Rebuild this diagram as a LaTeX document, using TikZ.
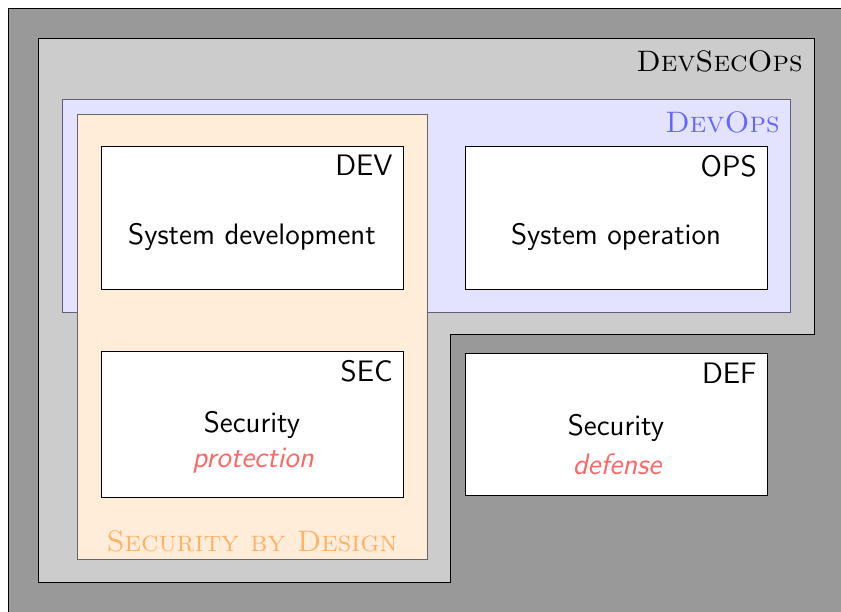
\documentclass[tikz,border=0pt]{standalone}
\definecolor{dopsline}{RGB}{95,95,125}
\tikzset{
  base/.style={font=\fontsize{14.8}{18}\selectfont},
  whitebox/.style={draw=black, fill=white, line width=0.5pt},
  tag/.style={font=\fontsize{14.8}{18}\selectfont\sffamily, anchor=north east, inner sep=0pt},
  body/.style={font=\fontsize{14.8}{18}\selectfont\sffamily, align=center, inner sep=0pt},
  emph/.style={font=\fontsize{14.8}{18}\selectfont\sffamily\itshape, inner sep=0pt, text=red!60},
  region/.style={base, inner sep=0pt},
}
\begin{document}
\begin{tikzpicture}[x=0.5pt,y=-0.5pt]
\useasboundingbox (0,0) rectangle (841,611);
\clip (0,0) rectangle (841,611);
% outer gray
\draw[fill=black!40, line width=0.5pt] (8,8) rectangle (900,700);
% DevSecOps L-shape
\draw[fill=black!20, line width=0.5pt] (38,38) -- (814,38) -- (814,334) -- (450,334) -- (450,582) -- (38,582) -- cycle;
\node[region, anchor=east] (dso) at (803,61) {\textsc{DevSecOps}};
% DevOps
\draw[fill=blue!11, draw=dopsline, line width=0.5pt] (62,99) rectangle (790,312);
\node[region, anchor=east, text=blue!60] (dops) at (780,122) {\textsc{DevOps}};
% Security by Design
\draw[fill=orange!15, draw=black!60, line width=0.5pt] (77,114) rectangle (427,559);
\node[region, text=orange!60] (sbd) at (252,541) {\textsc{Security by Design}};
% DEV
\draw[whitebox] (101,146) rectangle (403,289);
\node[tag] (devl) at (393,155) {DEV};
\node[body] (devt) at (252,237) {System development};
% OPS
\draw[whitebox] (465,146) rectangle (767,289);
\node[tag] (opsl) at (757,155) {OPS};
\node[body] (opst) at (616,237) {System operation};
% SEC
\draw[whitebox] (101,351) rectangle (403,497);
\node[tag] (secl) at (393,360) {SEC};
\node[body] (sect) at (252,425) {Security};
\node[emph] (sece) at (253,461) {protection};
% DEF
\draw[whitebox] (465,353) rectangle (767,495);
\node[tag] (defl) at (757,363) {DEF};
\node[body] (deft) at (616,428) {Security};
\node[emph] (defe) at (617,464) {defense};
\end{tikzpicture}
\end{document}
